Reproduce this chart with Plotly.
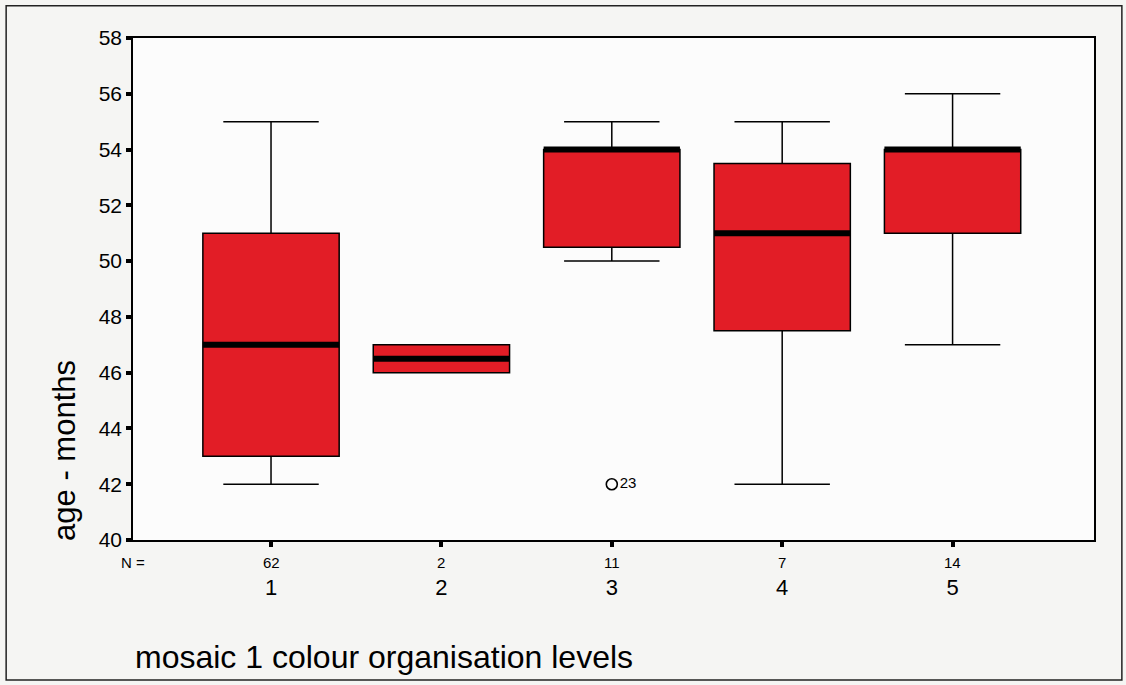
import plotly.graph_objects as go

# ---- data ----
categories = [1, 2, 3, 4, 5]
n_counts = ["62", "2", "11", "7", "14"]
q1 = [43.0, 46.0, 50.5, 47.5, 51.0]
medians = [47.0, 46.5, 54.0, 51.0, 54.0]
q3 = [51.0, 47.0, 54.0, 53.5, 54.0]
lower_whisker = [42.0, 46.0, 50.0, 42.0, 47.0]
upper_whisker = [55.0, 47.0, 55.0, 55.0, 56.0]
outlier_x = [3]
outlier_y = [42.0]
outlier_labels = ["23"]
y_ticks = [40, 42, 44, 46, 48, 50, 52, 54, 56, 58]

FONT = "Arial, Liberation Sans, sans-serif"
RED = "#e21d26"
BOX_W = 0.8

fig = go.Figure()
fig.add_trace(go.Box(
    x=categories, q1=q1, median=medians, q3=q3,
    lowerfence=lower_whisker, upperfence=upper_whisker,
    fillcolor=RED, line=dict(color="black", width=1.5),
    width=BOX_W, whiskerwidth=0.7, boxpoints=False, showlegend=False,
    hoverinfo="skip",
))

# thick median lines (SPSS style)
for xc, m in zip(categories, medians):
    fig.add_shape(type="line", xref="x", yref="y",
                  x0=xc - BOX_W / 2, x1=xc + BOX_W / 2, y0=m, y1=m,
                  line=dict(color="black", width=6))

# outliers
fig.add_trace(go.Scatter(
    x=outlier_x, y=outlier_y, mode="markers+text", text=outlier_labels,
    textposition="middle right", textfont=dict(family=FONT, size=15, color="black"),
    marker=dict(symbol="circle-open", size=11, color="black", line=dict(width=1.6)),
    showlegend=False, hoverinfo="skip", cliponaxis=False,
))

# N counts under the axis
for xc, n in zip(categories, n_counts):
    fig.add_annotation(x=xc, xref="x", y=-0.044, yref="paper", text=n,
                       showarrow=False, yanchor="middle",
                       font=dict(family=FONT, size=15, color="black"))
fig.add_annotation(x=0.0, xref="paper", y=-0.044, yref="paper", text="N =",
                   showarrow=False, yanchor="middle", xanchor="center",
                   font=dict(family=FONT, size=15, color="black"))

# axis titles as annotations (SPSS positions)
fig.add_annotation(x=-0.072, xref="paper", y=0.179, yref="paper",
                   text="age - months", textangle=-90, showarrow=False,
                   xanchor="center", yanchor="middle",
                   font=dict(family=FONT, size=31, color="black"))
fig.add_annotation(x=0.0, xref="paper", y=-0.233, yref="paper",
                   text="mosaic 1 colour organisation levels", showarrow=False,
                   xanchor="left", yanchor="middle",
                   font=dict(family=FONT, size=32, color="black"))

# outer frame
fig.add_shape(type="rect", xref="paper", yref="paper",
              x0=-0.132, x1=1.029, y0=-0.279, y1=1.064,
              line=dict(color="#222222", width=1.5), layer="below")

fig.update_layout(
    width=1126, height=685,
    margin=dict(l=133, r=32, t=38, b=145),
    paper_bgcolor="#f5f5f3", plot_bgcolor="#fcfcfc",
    font=dict(family=FONT, color="black"),
    showlegend=False,
)
fig.update_xaxes(
    range=[0.19, 5.83], tickvals=categories, ticktext=[str(c) for c in categories],
    ticks="outside", ticklen=5, tickwidth=4, tickcolor="black",
    showline=True, linecolor="black", linewidth=1.5, mirror=True,
    showgrid=False, zeroline=False,
    tickfont=dict(family=FONT, size=22, color="black"),
    ticklabelstandoff=22,
)
fig.update_yaxes(
    range=[40, 58], tickvals=y_ticks,
    ticks="outside", ticklen=5, tickwidth=4, tickcolor="black",
    showline=True, linecolor="black", linewidth=1.5, mirror=True,
    showgrid=False, zeroline=False,
    tickfont=dict(family=FONT, size=21, color="black"),
)

fig.write_html("out.html", config={"displayModeBar": False},
               post_script="document.body.style.margin='0';document.body.style.overflow='hidden';")
